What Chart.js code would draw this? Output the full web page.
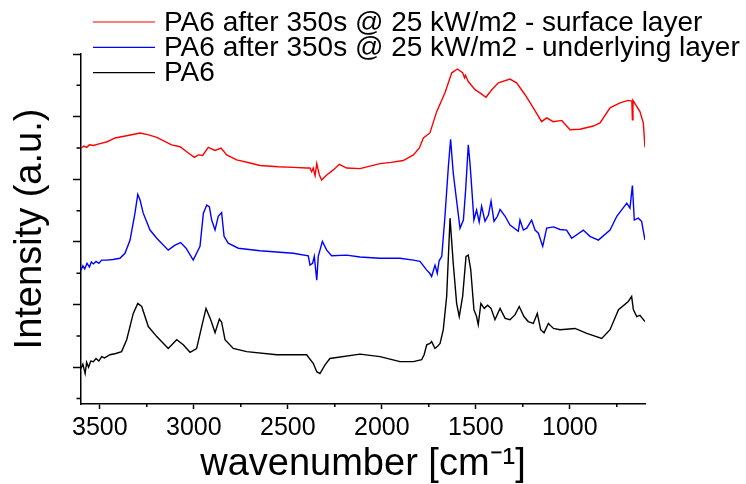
<!DOCTYPE html>
<html>
<head>
<meta charset="utf-8">
<title>FTIR PA6</title>
<script src="https://cdn.jsdelivr.net/npm/chart.js@4.4.1/dist/chart.umd.min.js"></script>
<style>
    html, body { margin: 0; padding: 0; background: #fff; }
</style>
</head>
<body>
<canvas id="chart-ftir" width="746" height="484"></canvas>
<script>
// Ejes
const xMajorTicks = [1000, 1500, 2000, 2500, 3000, 3500];
const xMinorTicks = [750, 1250, 1750, 2250, 2750, 3250];
const yMajorTicks = [0, 1, 2, 3, 4, 5];
const yMinorTicks = [-0.5, 0.5, 1.5, 2.5, 3.5, 4.5];

const seriesLabels = [
    'PA6 after 350s @ 25 kW/m2 - surface layer',
    'PA6 after 350s @ 25 kW/m2 - underlying layer',
    'PA6'
];
const seriesColors = ['#ff0000', '#0000ff', '#000000'];

// Capa superficial (rojo)
const surfaceWavenumber = [3600, 3585, 3570, 3555, 3534, 3499, 3460, 3419, 3350, 3286, 3240, 3197, 3118, 3073, 3029, 2997, 2976, 2953, 2923, 2887, 2855, 2825, 2772, 2700, 2648, 2550, 2471, 2400, 2382, 2373, 2365, 2355, 2346, 2332, 2320, 2293, 2258, 2226, 2187, 2116, 2010, 1950, 1886, 1832, 1800, 1779, 1744, 1708, 1664, 1628, 1598, 1570, 1560, 1555, 1540, 1504, 1478, 1446, 1415, 1380, 1318, 1283, 1238, 1194, 1150, 1123, 1088, 1043, 999, 946, 875, 839, 786, 733, 689, 670, 667, 664, 660, 627, 609, 600];
const surfaceIntensity = [3.50, 3.53, 3.51, 3.55, 3.54, 3.57, 3.60, 3.66, 3.70, 3.74, 3.71, 3.67, 3.55, 3.52, 3.42, 3.35, 3.39, 3.38, 3.51, 3.46, 3.50, 3.39, 3.31, 3.26, 3.22, 3.20, 3.19, 3.18, 3.18, 3.12, 3.18, 3.06, 3.25, 3.07, 2.99, 3.07, 3.15, 3.24, 3.18, 3.17, 3.25, 3.27, 3.30, 3.39, 3.50, 3.66, 3.74, 4.08, 4.38, 4.70, 4.76, 4.70, 4.62, 4.66, 4.56, 4.43, 4.38, 4.31, 4.43, 4.54, 4.60, 4.54, 4.35, 4.14, 3.92, 3.98, 3.92, 3.94, 3.79, 3.80, 3.85, 3.90, 4.14, 4.22, 4.26, 4.25, 3.95, 4.26, 4.24, 4.08, 3.90, 3.51];

// Capa subyacente (azul)
const underlyingWavenumber = [3600, 3590, 3580, 3568, 3555, 3545, 3534, 3520, 3505, 3490, 3463, 3430, 3393, 3366, 3339, 3313, 3298, 3286, 3269, 3233, 3197, 3136, 3100, 3070, 3041, 3003, 2967, 2949, 2931, 2917, 2905, 2887, 2870, 2852, 2839, 2817, 2763, 2648, 2471, 2391, 2382, 2368, 2359, 2346, 2338, 2316, 2293, 2267, 2187, 2116, 2010, 1903, 1832, 1797, 1761, 1745, 1735, 1717, 1705, 1695, 1681, 1664, 1646, 1634, 1620, 1605, 1584, 1566, 1554, 1540, 1531, 1522, 1510, 1496, 1482, 1469, 1451, 1433, 1419, 1403, 1385, 1371, 1344, 1318, 1274, 1265, 1247, 1229, 1203, 1185, 1167, 1144, 1123, 1087, 1052, 1017, 990, 928, 893, 848, 786, 750, 697, 680, 667, 657, 636, 618, 600];
const underlyingIntensity = [1.55, 1.62, 1.57, 1.66, 1.60, 1.68, 1.65, 1.69, 1.66, 1.71, 1.71, 1.72, 1.74, 1.82, 2.03, 2.46, 2.76, 2.67, 2.46, 2.19, 2.06, 1.87, 1.95, 1.99, 1.90, 1.71, 1.93, 2.46, 2.59, 2.56, 2.35, 2.19, 2.41, 2.47, 2.09, 1.98, 1.90, 1.86, 1.82, 1.78, 1.63, 1.66, 1.77, 1.39, 1.77, 2.01, 1.87, 1.78, 1.79, 1.76, 1.74, 1.74, 1.71, 1.69, 1.55, 1.50, 1.45, 1.63, 1.50, 1.70, 1.77, 2.41, 3.20, 3.64, 3.10, 2.73, 2.22, 2.35, 2.83, 3.55, 3.26, 2.88, 2.35, 2.51, 2.32, 2.57, 2.33, 2.43, 2.65, 2.33, 2.41, 2.52, 2.41, 2.27, 2.17, 2.35, 2.19, 2.22, 2.35, 2.19, 2.14, 1.93, 2.22, 2.24, 2.20, 2.19, 2.06, 2.19, 2.09, 2.03, 2.19, 2.41, 2.62, 2.54, 2.90, 2.35, 2.38, 2.33, 2.03];

// PA6 original (negro)
const pa6Wavenumber = [3600, 3590, 3578, 3570, 3560, 3548, 3534, 3520, 3505, 3490, 3475, 3446, 3415, 3384, 3357, 3322, 3298, 3277, 3242, 3197, 3136, 3091, 3056, 3020, 2985, 2958, 2935, 2910, 2887, 2864, 2852, 2834, 2790, 2719, 2559, 2400, 2364, 2346, 2329, 2302, 2276, 2116, 2010, 1903, 1832, 1788, 1775, 1761, 1744, 1735, 1717, 1705, 1690, 1673, 1655, 1637, 1620, 1602, 1588, 1570, 1552, 1540, 1527, 1510, 1496, 1487, 1473, 1455, 1437, 1419, 1398, 1371, 1344, 1318, 1291, 1269, 1244, 1221, 1194, 1173, 1155, 1137, 1114, 1087, 1052, 972, 910, 830, 786, 741, 689, 671, 662, 644, 627, 600];
const pa6Intensity = [-0.02, 0.05, -0.10, 0.08, 0.00, 0.10, 0.09, 0.14, 0.10, 0.17, 0.15, 0.20, 0.22, 0.25, 0.44, 0.86, 1.02, 0.97, 0.65, 0.49, 0.30, 0.44, 0.36, 0.24, 0.30, 0.65, 0.94, 0.76, 0.55, 0.77, 0.72, 0.44, 0.30, 0.25, 0.20, 0.20, 0.06, -0.07, -0.10, 0.04, 0.14, 0.21, 0.17, 0.09, 0.09, 0.12, 0.20, 0.36, 0.38, 0.41, 0.30, 0.33, 0.38, 0.60, 1.13, 2.38, 1.66, 1.02, 0.81, 1.13, 1.77, 1.79, 1.56, 0.92, 0.81, 0.68, 1.02, 0.94, 0.99, 0.94, 0.76, 0.94, 0.78, 0.76, 0.84, 0.97, 0.81, 0.73, 0.70, 0.86, 0.60, 0.55, 0.70, 0.62, 0.60, 0.62, 0.54, 0.46, 0.60, 0.92, 1.05, 1.13, 0.92, 0.81, 0.83, 0.73];

const FONT = '"Liberation Sans", Arial, sans-serif';

function toPoints(xs, ys) {
    return xs.map((x, i) => ({ x: x, y: ys[i] }));
}

/**
 * Ticks menores y leyenda dibujados a mano
 */
const extrasPlugin = {
    id: 'extras',
    afterDraw(chart) {
        const ctx = chart.ctx;
        const area = chart.chartArea;
        const xScale = chart.scales.x;
        const yScale = chart.scales.y;

        ctx.save();
        ctx.strokeStyle = '#000';
        ctx.lineWidth = 1.5;
        ctx.beginPath();
        xMinorTicks.forEach(v => {
            const px = xScale.getPixelForValue(v);
            ctx.moveTo(px, area.bottom);
            ctx.lineTo(px, area.bottom + 3);
        });
        yMinorTicks.forEach(v => {
            const py = yScale.getPixelForValue(v);
            ctx.moveTo(area.left, py);
            ctx.lineTo(area.left - 4.5, py);
        });
        ctx.stroke();

        // Leyenda
        ctx.font = '28px ' + FONT;
        ctx.textBaseline = 'middle';
        ctx.textAlign = 'left';
        chart.data.datasets.forEach((ds, i) => {
            const y = 22 + i * 25.3;
            ctx.strokeStyle = ds.borderColor;
            ctx.lineWidth = 1.2;
            ctx.beginPath();
            ctx.moveTo(93, y);
            ctx.lineTo(155, y);
            ctx.stroke();
            ctx.fillStyle = '#000';
            ctx.fillText(ds.label, 164, y + 1);
        });
        ctx.restore();
    }
};

const datasets = [
    toPoints(surfaceWavenumber, surfaceIntensity),
    toPoints(underlyingWavenumber, underlyingIntensity),
    toPoints(pa6Wavenumber, pa6Intensity)
].map((pts, i) => ({
    label: seriesLabels[i],
    data: pts,
    borderColor: seriesColors[i],
    borderWidth: 1.4,
    pointRadius: 0,
    tension: 0,
    fill: false
}));

new Chart(document.getElementById('chart-ftir'), {
    type: 'line',
    data: { datasets: datasets },
    options: {
        responsive: false,
        animation: false,
        layout: { padding: { top: 54, right: 101, left: 0, bottom: 0 } },
        plugins: {
            legend: { display: false },
            tooltip: { enabled: false }
        },
        scales: {
            x: {
                type: 'linear',
                reverse: true,
                min: 600,
                max: 3600,
                afterBuildTicks: scale => { scale.ticks = xMajorTicks.map(v => ({ value: v })); },
                afterFit: scale => { scale.height = 80; },
                grid: { drawOnChartArea: false, tickLength: 5, tickWidth: 1.5, tickColor: '#000' },
                border: { display: true, color: '#000', width: 1.5 },
                ticks: {
                    autoSkip: false,
                    maxRotation: 0,
                    padding: 4,
                    color: '#000',
                    font: { family: FONT, size: 25 },
                    callback: value => String(value)
                },
                title: {
                    display: true,
                    text: 'wavenumber [cm⁻¹]',
                    color: '#000',
                    padding: { top: 0, bottom: -3 },
                    font: { family: FONT, size: 38 }
                }
            },
            y: {
                min: -0.586,
                max: 5,
                afterBuildTicks: scale => { scale.ticks = yMajorTicks.map(v => ({ value: v })); },
                afterFit: scale => { scale.width = 81; },
                grid: { drawOnChartArea: false, tickLength: 8, tickWidth: 1.5, tickColor: '#000' },
                border: { display: true, color: '#000', width: 1.5 },
                ticks: { display: false },
                title: {
                    display: true,
                    text: 'Intensity (a.u.)',
                    color: '#000',
                    padding: { top: 8, bottom: 0 },
                    font: { family: FONT, size: 38 }
                }
            }
        }
    },
    plugins: [extrasPlugin]
});
</script>
</body>
</html>
